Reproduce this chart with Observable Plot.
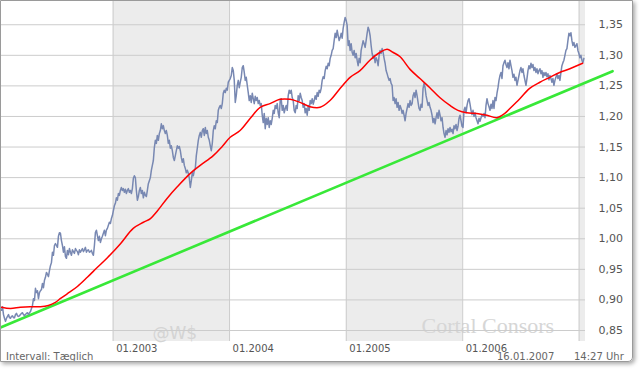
<!DOCTYPE html>
<html>
<head>
<meta charset="utf-8">
<script src="https://cdn.jsdelivr.net/npm/d3@7"></script>
<script src="https://cdn.jsdelivr.net/npm/@observablehq/plot@0.6"></script>
<style>
  body { margin: 0; background: #fff; }
  #wrap { position: relative; width: 640px; height: 370px; overflow: hidden; font-family: "DejaVu Sans", sans-serif; }
  #chart { position: absolute; left: 0; top: 0; }
  #frame { position: absolute; left: 0; top: 0; width: 631px; height: 360px; border: 1px solid #9a9a9a; border-radius: 0 0 5px 0; box-shadow: 2px 2px 4px rgba(0,0,0,0.35); pointer-events: none; }
  .foot { position: absolute; top: 351px; font-size: 10px; line-height: 12px; color: #666; white-space: nowrap; }
</style>
</head>
<body>
<div id="wrap">
  <div id="chart"></div>
  <div class="foot" style="left:6px">Intervall: Tæglich</div>
  <div class="foot" style="left:497px">16.01.2007</div>
  <div class="foot" style="left:574px">14:27 Uhr</div>
  <div id="frame"></div>
</div>
<script>
// ---- data ----
const seriesStart = "2002-01-16";
const seriesEnd = "2007-01-16";
// EUR/USD, evenly sampled between seriesStart and seriesEnd
const eurUsd = [
0.883,0.889,0.876,0.870,0.865,0.870,0.873,0.876,0.871,0.870,
0.873,0.874,0.871,0.871,0.876,0.878,0.874,0.873,0.874,0.876,
0.878,0.879,0.876,0.874,0.876,0.878,0.879,0.876,0.879,0.881,
0.886,0.891,0.902,0.899,0.919,0.912,0.915,0.902,0.912,0.915,
0.917,0.927,0.920,0.932,0.937,0.945,0.942,0.938,0.948,0.956,
0.961,0.978,0.973,0.989,0.992,0.989,0.986,1.004,1.010,1.009,
0.997,0.989,0.978,0.987,0.971,0.968,0.981,0.974,0.984,0.978,
0.973,0.982,0.979,0.976,0.984,0.981,0.979,0.974,0.982,0.978,
0.981,0.984,0.979,0.982,0.986,0.978,0.981,0.982,0.978,0.979,
0.981,0.976,0.973,0.989,1.010,1.014,1.005,0.997,1.004,0.994,
1.000,1.004,1.009,1.014,1.005,1.014,1.017,1.022,1.027,1.025,
1.033,1.038,1.046,1.054,1.058,1.067,1.063,1.074,1.071,1.079,
1.084,1.079,1.082,1.076,1.081,1.074,1.079,1.082,1.076,1.079,
1.074,1.082,1.099,1.103,1.100,1.079,1.063,1.069,1.079,1.084,
1.074,1.079,1.067,1.076,1.071,1.069,1.079,1.090,1.095,1.100,
1.112,1.120,1.128,1.149,1.161,1.156,1.169,1.161,1.172,1.177,
1.188,1.180,1.185,1.177,1.172,1.177,1.169,1.156,1.161,1.148,
1.152,1.144,1.133,1.128,1.136,1.144,1.152,1.148,1.151,1.144,
1.133,1.125,1.131,1.120,1.115,1.108,1.112,1.107,1.099,1.084,
1.095,1.108,1.103,1.112,1.115,1.136,1.148,1.161,1.169,1.174,
1.166,1.177,1.180,1.169,1.182,1.172,1.177,1.166,1.161,1.152,
1.144,1.156,1.177,1.185,1.180,1.193,1.190,1.210,1.215,1.218,
1.213,1.221,1.238,1.243,1.239,1.246,1.243,1.256,1.259,1.262,
1.267,1.280,1.275,1.259,1.223,1.234,1.251,1.259,1.247,1.256,
1.264,1.280,1.283,1.272,1.259,1.264,1.251,1.239,1.226,1.234,
1.223,1.238,1.229,1.221,1.233,1.226,1.231,1.221,1.226,1.218,
1.221,1.202,1.190,1.205,1.180,1.197,1.187,1.198,1.182,1.193,
1.187,1.197,1.210,1.205,1.218,1.213,1.221,1.206,1.198,1.226,
1.229,1.210,1.218,1.206,1.213,1.218,1.210,1.234,1.243,1.238,
1.243,1.231,1.226,1.210,1.206,1.218,1.213,1.234,1.226,1.238,
1.231,1.226,1.215,1.221,1.206,1.213,1.202,1.218,1.210,1.226,
1.221,1.229,1.220,1.226,1.234,1.228,1.239,1.233,1.243,1.239,
1.246,1.259,1.265,1.262,1.275,1.282,1.278,1.287,1.283,1.295,
1.300,1.308,1.311,1.324,1.336,1.329,1.341,1.332,1.324,1.329,
1.336,1.328,1.344,1.354,1.362,1.357,1.349,1.316,1.324,1.308,
1.319,1.305,1.300,1.308,1.296,1.303,1.292,1.283,1.295,1.288,
1.308,1.316,1.324,1.319,1.313,1.324,1.336,1.346,1.341,1.332,
1.316,1.303,1.295,1.300,1.288,1.296,1.292,1.283,1.300,1.308,
1.303,1.311,1.305,1.295,1.287,1.275,1.270,1.264,1.259,1.262,
1.254,1.251,1.226,1.231,1.221,1.229,1.215,1.223,1.210,1.218,
1.213,1.205,1.210,1.202,1.193,1.205,1.213,1.221,1.215,1.226,
1.218,1.221,1.234,1.239,1.231,1.243,1.234,1.223,1.213,1.210,
1.220,1.215,1.246,1.254,1.247,1.234,1.226,1.218,1.223,1.215,
1.210,1.202,1.190,1.197,1.188,1.198,1.206,1.197,1.210,1.202,
1.193,1.198,1.182,1.172,1.166,1.177,1.170,1.180,1.174,1.182,
1.175,1.179,1.172,1.185,1.180,1.187,1.177,1.184,1.197,1.202,
1.193,1.184,1.182,1.210,1.215,1.206,1.218,1.226,1.229,1.220,
1.210,1.203,1.210,1.200,1.206,1.198,1.193,1.188,1.197,1.192,
1.198,1.203,1.200,1.205,1.198,1.218,1.229,1.221,1.216,1.210,
1.220,1.213,1.226,1.213,1.231,1.226,1.238,1.247,1.259,1.267,
1.272,1.262,1.283,1.288,1.292,1.285,1.280,1.288,1.278,1.292,
1.283,1.275,1.264,1.269,1.259,1.264,1.251,1.259,1.267,1.275,
1.280,1.272,1.278,1.267,1.259,1.251,1.262,1.275,1.283,1.278,
1.287,1.280,1.285,1.275,1.280,1.272,1.278,1.270,1.275,1.278,
1.270,1.275,1.264,1.272,1.267,1.272,1.265,1.270,1.260,1.267,
1.262,1.256,1.262,1.251,1.259,1.264,1.270,1.262,1.267,1.259,
1.272,1.283,1.288,1.292,1.300,1.308,1.311,1.324,1.336,1.332,
1.337,1.324,1.316,1.321,1.313,1.316,1.319,1.308,1.303,1.296,
1.300,1.292,1.288,1.295
];

// moving average (red)
const maDates = ["2002-01-16","2002-02-13","2002-03-16","2002-04-16","2002-05-18","2002-06-12","2002-07-04","2002-07-19","2002-08-10","2002-09-11",
"2002-10-12","2002-11-12","2002-12-14","2003-01-24","2003-03-05","2003-04-06","2003-04-28","2003-05-19","2003-06-19","2003-07-21",
"2003-08-31","2003-10-01","2003-11-11","2003-12-09","2004-01-03","2004-02-03","2004-03-06","2004-04-06","2004-05-07","2004-06-07",
"2004-07-09","2004-08-09","2004-09-09","2004-10-11","2004-11-11","2004-12-13","2005-01-13","2005-02-13","2005-03-16","2005-04-17",
"2005-05-09","2005-05-27","2005-06-18","2005-07-20","2005-08-20","2005-09-20","2005-10-21","2005-11-22","2005-12-17","2006-01-14",
"2006-02-14","2006-03-18","2006-04-18","2006-05-13","2006-05-29","2006-06-29","2006-07-30","2006-08-31","2006-10-01","2006-11-01",
"2006-12-03","2007-01-12"];
const maValues = [0.888,0.886,0.888,0.889,0.889,0.891,0.896,0.902,0.910,0.922,
0.937,0.953,0.969,0.992,1.017,1.027,1.033,1.045,1.066,1.085,
1.107,1.120,1.136,1.151,1.166,1.177,1.197,1.215,1.221,1.228,
1.228,1.223,1.216,1.215,1.226,1.246,1.264,1.275,1.292,1.305,
1.310,1.305,1.298,1.277,1.262,1.247,1.231,1.218,1.210,1.206,
1.205,1.202,1.198,1.205,1.213,1.229,1.246,1.256,1.264,1.272,
1.278,1.287];

// linear trend (green)
const trendDates = ["2002-01-13", "2007-04-16"];
const trendValues = [0.855, 1.274];

// shaded years and axes
const bandStarts = ["2003-01-01", "2005-01-01", "2007-01-01"];
const bandEnds   = ["2004-01-01", "2006-01-01", "2007-01-21"];
const gridDates = ["2003-01-01", "2004-01-01", "2005-01-01", "2006-01-01", "2007-01-01"];
const xTickDates = ["2003-01-01", "2004-01-01", "2005-01-01", "2006-01-01"];
const yTicks = [0.85, 0.90, 0.95, 1.00, 1.05, 1.10, 1.15, 1.20, 1.25, 1.30, 1.35];

// ---- build ----
const D = s => new Date(s + "T00:00:00Z");
const t0 = D(seriesStart), t1 = D(seriesEnd);
const idxToDate = d3.scaleLinear().domain([0, eurUsd.length - 1]).range([+t0, +t1]);
const series = eurUsd.map((v, i) => ({date: new Date(idxToDate(i)), value: v}));
const ma = maDates.map((d, i) => ({date: D(d), value: maValues[i]}));
const trend = trendDates.map((d, i) => ({date: D(d), value: trendValues[i]}));
const bands = bandStarts.map((s, i) => ({start: D(s), end: D(bandEnds[i])}));

const chart = Plot.plot({
  width: 640,
  height: 370,
  marginLeft: 1,
  marginRight: 55,
  marginTop: 1,
  marginBottom: 29,
  style: {fontFamily: "DejaVu Sans", fontSize: "10px", background: "transparent", overflow: "visible"},
  x: {type: "utc", domain: [D("2002-01-16"), D("2007-01-21")]},
  y: {domain: [0.832, 1.388]},
  marks: [
    Plot.rect(bands, {x1: "start", x2: "end", fill: "#ececec"}),
    Plot.text(["Cortal Consors"], {frameAnchor: "bottom-left", dx: 420, dy: -9, lineAnchor: "bottom", textAnchor: "start", fontFamily: "Liberation Serif", fontSize: 22, fill: "#d6d6d6"}),
    Plot.text(["@W$"], {frameAnchor: "bottom-left", dx: 151, dy: -3, lineAnchor: "bottom", textAnchor: "start", fontSize: 17, fill: "#d4d4d4"}),
    Plot.gridY(yTicks, {stroke: "#cccccc", strokeOpacity: 1}),
    Plot.gridX(gridDates.map(D), {stroke: "#cccccc", strokeOpacity: 1}),
    Plot.axisY(yTicks, {anchor: "right", tickSize: 0, tickPadding: 13, fontSize: 11, fill: "#555", label: null,
      tickFormat: d => d.toFixed(2).replace(".", ",")}),
    Plot.axisX(xTickDates.map(D), {anchor: "bottom", tickSize: 0, tickPadding: 3, textAnchor: "start", dx: 3, fill: "#555", label: null,
      tickFormat: d3.utcFormat("%m.%Y")}),
    Plot.line(trend, {x: "date", y: "value", stroke: "#38e838", strokeWidth: 2.6}),
    Plot.line(series, {x: "date", y: "value", stroke: "#7888b2", strokeWidth: 1.5}),
    Plot.line(ma, {x: "date", y: "value", stroke: "#ff0000", strokeWidth: 1.5, curve: "catmull-rom"})
  ]
});
document.getElementById("chart").appendChild(chart);
</script>
</body>
</html>
